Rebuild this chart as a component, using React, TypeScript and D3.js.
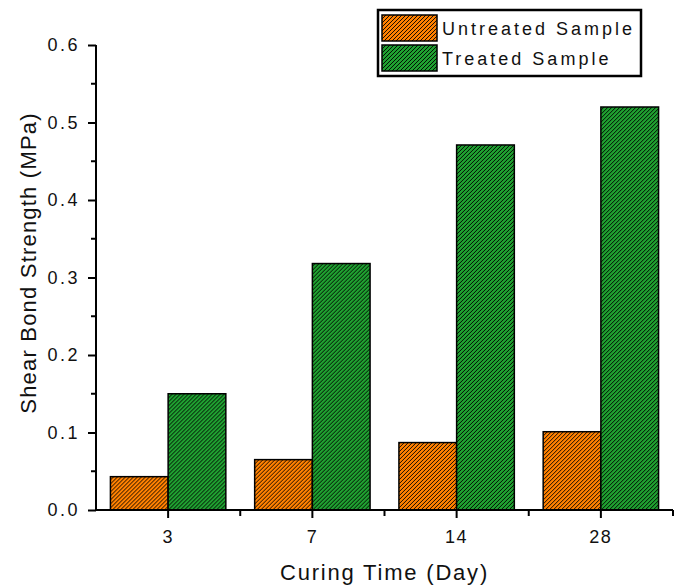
import React, { useRef, useEffect } from 'react';
import * as d3 from 'd3';

const days = ['3', '7', '14', '28'];
const untreated = [0.043, 0.065, 0.087, 0.101];
const treated = [0.15, 0.318, 0.471, 0.52];
const yTicks = [0, 0.1, 0.2, 0.3, 0.4, 0.5, 0.6];
const seriesNames = ['Untreated Sample', 'Treated Sample'];
const seriesColors = ['#ff8000', '#1fa030'];

function App() {
  const chartRef = useRef<SVGSVGElement | null>(null);

  useEffect(() => {
    drawChart();
  }, []);

  function drawChart() {
    const svg = d3.select(chartRef.current);
    svg.selectAll('*').remove();

    const left = 96, right = 673, top = 45, bottom = 510;
    const font = 'Arial, "Liberation Sans", sans-serif';

    const defs = svg.append('defs');
    seriesColors.forEach((c, i) => {
      const p = defs.append('pattern')
        .attr('id', 'hatch' + i)
        .attr('patternUnits', 'userSpaceOnUse')
        .attr('width', 4)
        .attr('height', 4);
      p.append('rect').attr('width', 4).attr('height', 4).attr('fill', c);
      p.append('path')
        .attr('d', 'M-1,1 l2,-2 M0,4 l4,-4 M3,5 l2,-2')
        .attr('stroke', '#000')
        .attr('stroke-width', 0.9)
        .attr('shape-rendering', 'crispEdges');
    });

    const x = d3.scaleBand()
      .domain(days)
      .range([left, right])
      .paddingInner(0.2)
      .paddingOuter(0.1);

    const x1 = d3.scaleBand()
      .domain(['0', '1'])
      .range([0, x.bandwidth()]);

    const y = d3.scaleLinear()
      .domain([0, 0.6])
      .range([bottom, top]);

    // bars
    const groups = svg.append('g')
      .selectAll('g')
      .data(days)
      .join('g')
      .attr('transform', d => `translate(${x(d)},0)`);

    groups.selectAll('rect')
      .data((d, i) => [untreated[i], treated[i]])
      .join('rect')
      .attr('x', (d, j) => x1(String(j)) as number)
      .attr('y', d => y(d))
      .attr('width', x1.bandwidth())
      .attr('height', d => y(0) - y(d))
      .attr('fill', (d, j) => `url(#hatch${j})`)
      .attr('stroke', '#000')
      .attr('stroke-width', 1.5);

    // y axis
    const yAxis = d3.axisLeft(y)
      .tickValues(yTicks)
      .tickFormat(d3.format('.1f'))
      .tickSize(8)
      .tickPadding(8);
    const gy = svg.append('g')
      .attr('transform', `translate(${left},0)`)
      .call(yAxis);
    gy.select('.domain').attr('stroke-width', 2).attr('d', `M0,${top}V${bottom}`);
    gy.selectAll('.tick line').attr('stroke-width', 2);
    gy.selectAll('.tick text')
      .attr('font-family', font)
      .attr('font-size', 18)
      .attr('letter-spacing', 2.5)
      .attr('fill', '#111');

    const yMinor = yTicks.slice(0, -1).map(t => t + 0.05);
    svg.append('g')
      .selectAll('line')
      .data(yMinor)
      .join('line')
      .attr('x1', left - 5)
      .attr('x2', left)
      .attr('y1', d => y(d))
      .attr('y2', d => y(d))
      .attr('stroke', '#000')
      .attr('stroke-width', 2);

    // x axis
    const xAxis = d3.axisBottom(x)
      .tickSize(8)
      .tickPadding(12);
    const gx = svg.append('g')
      .attr('transform', `translate(0,${bottom})`)
      .call(xAxis);
    gx.select('.domain').attr('stroke-width', 2).attr('d', `M${left},0H${right}`);
    gx.selectAll('.tick line').attr('stroke-width', 2);
    gx.selectAll('.tick text')
      .attr('font-family', font)
      .attr('font-size', 18)
      .attr('letter-spacing', 1.5)
      .attr('fill', '#111');

    const xMinor = days.slice(1).map(d => (x(d) as number) - x.step() * 0.2 / 2);
    xMinor.push(right);
    svg.append('g')
      .selectAll('line')
      .data(xMinor)
      .join('line')
      .attr('x1', d => d)
      .attr('x2', d => d)
      .attr('y1', bottom)
      .attr('y2', bottom + 6)
      .attr('stroke', '#000')
      .attr('stroke-width', 2);

    // axis titles
    svg.append('text')
      .attr('x', (left + right) / 2)
      .attr('y', 580)
      .attr('text-anchor', 'middle')
      .attr('font-family', font)
      .attr('font-size', 22)
      .attr('letter-spacing', 1.8)
      .attr('fill', '#111')
      .text('Curing Time (Day)');

    svg.append('text')
      .attr('transform', `translate(36,263) rotate(-90)`)
      .attr('text-anchor', 'middle')
      .attr('font-family', font)
      .attr('font-size', 22)
      .attr('letter-spacing', 1.2)
      .attr('fill', '#111')
      .text('Shear Bond Strength (MPa)');

    // legend
    const lg = svg.append('g').attr('transform', 'translate(378,10)');
    lg.append('rect')
      .attr('width', 263)
      .attr('height', 66)
      .attr('fill', '#fff')
      .attr('stroke', '#000')
      .attr('stroke-width', 2.5);
    seriesNames.forEach((name, i) => {
      const row = lg.append('g').attr('transform', `translate(4,${5 + i * 30})`);
      row.append('rect')
        .attr('width', 55)
        .attr('height', 26)
        .attr('fill', `url(#hatch${i})`)
        .attr('stroke', '#000')
        .attr('stroke-width', 1.5);
      row.append('text')
        .attr('x', 60)
        .attr('y', 20)
        .attr('font-family', font)
        .attr('font-size', 18)
        .attr('letter-spacing', 3)
        .attr('fill', '#111')
        .text(name);
    });
  }

  return (
    <svg ref={chartRef} width={680} height={588}
      style={{ position: 'absolute', left: 0, top: 0, background: '#fff' }} />
  );
}

export default App;
